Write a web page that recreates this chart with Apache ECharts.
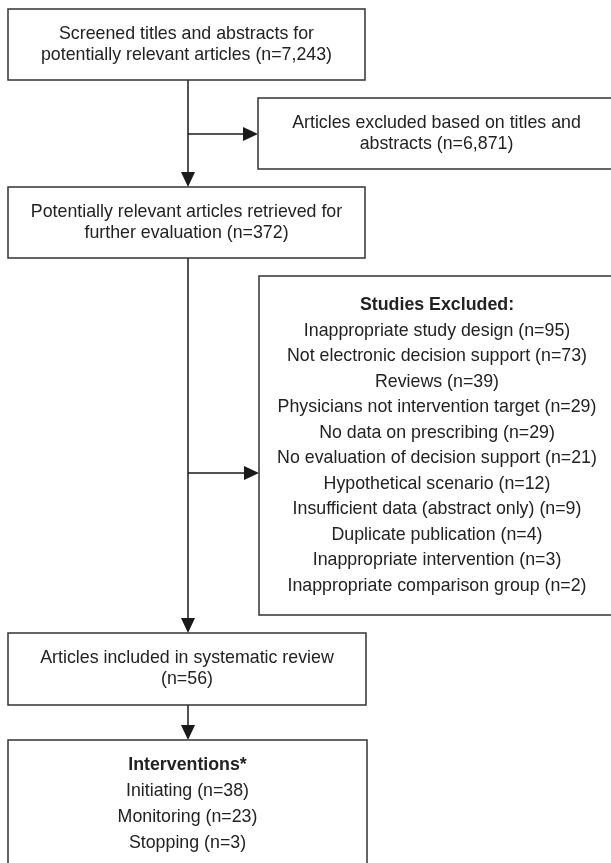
<!DOCTYPE html>
<html>
<head>
<meta charset="utf-8">
<script src="https://cdn.jsdelivr.net/npm/echarts@6/dist/echarts.min.js"></script>
<style>
  html, body { margin: 0; padding: 0; background: #fff; }
  #chart { width: 611px; height: 863px; }
</style>
</head>
<body>
<div id="chart"></div>
<script>
const screened = 7243;
const excludedOnTitles = 6871;
const retrieved = 372;
const included = 56;

const exclusionReasons = [
  "Inappropriate study design",
  "Not electronic decision support",
  "Reviews",
  "Physicians not intervention target",
  "No data on prescribing",
  "No evaluation of decision support",
  "Hypothetical scenario",
  "Insufficient data (abstract only)",
  "Duplicate publication",
  "Inappropriate intervention",
  "Inappropriate comparison group",
];
const exclusionCounts = [95, 73, 39, 29, 29, 21, 12, 9, 4, 3, 2];

const interventionTypes = ["Initiating", "Monitoring", "Stopping"];
const interventionCounts = [38, 23, 3];

const fmt = (n) => n.toLocaleString("en-US");

// text of each box, one entry per line
const boxTexts = [
  [
    { text: "Screened titles and abstracts for" },
    { text: `potentially relevant articles (n=${fmt(screened)})` },
  ],
  [
    { text: "Articles excluded based on titles and" },
    { text: `abstracts (n=${fmt(excludedOnTitles)})` },
  ],
  [
    { text: "Potentially relevant articles retrieved for" },
    { text: `further evaluation (n=${fmt(retrieved)})` },
  ],
  [{ text: "Studies Excluded:", bold: true }].concat(
    exclusionReasons.map((r, i) => ({ text: `${r} (n=${exclusionCounts[i]})` }))
  ),
  [
    { text: "Articles included in systematic review" },
    { text: `(n=${fmt(included)})` },
  ],
  [{ text: "Interventions*", bold: true }].concat(
    interventionTypes.map((t, i) => ({ text: `${t} (n=${interventionCounts[i]})` }))
  ),
];

// layout in units of the hidden axes (1 unit = 1px): x0, y0, x1, y1, line pitch
const boxLayout = [
  [8, 9, 365, 80, 21],
  [258, 98, 615, 169, 21],
  [8, 187, 365, 258, 21],
  [259, 276, 615, 615, 25.5],
  [8, 633, 366, 705, 21],
  [8, 740, 367, 869, 26],
];

// connectors: x0, y0, x1, y1 (arrow head at the end)
const connectors = [
  [188, 80, 188, 187],
  [188, 134, 258, 134],
  [188, 258, 188, 633],
  [188, 473, 259, 473],
  [188, 705, 188, 740],
];

const LINE = "#1a1a1a";
const FONT = "'Liberation Sans', Arial, sans-serif";

function renderBox(params, api) {
  const i = api.value(4);
  const [x0, y0, x1, y1, pitch] = boxLayout[i];
  const p0 = api.coord([x0, y0]);
  const p1 = api.coord([x1, y1]);
  const lines = boxTexts[i];
  const cx = (p0[0] + p1[0]) / 2;
  const cy = (p0[1] + p1[1]) / 2;
  const first = cy - ((lines.length - 1) * pitch) / 2;
  const children = [
    {
      type: "rect",
      shape: { x: p0[0], y: p0[1], width: p1[0] - p0[0], height: p1[1] - p0[1] },
      style: { fill: "#fff", stroke: "#333", lineWidth: 1.5 },
    },
  ];
  lines.forEach((ln, k) => {
    children.push({
      type: "text",
      style: {
        text: ln.text,
        x: cx,
        y: first + k * pitch,
        align: "center",
        verticalAlign: "middle",
        fontFamily: FONT,
        fontSize: 17.8,
        fontWeight: ln.bold ? "bold" : "normal",
        fill: "#222",
      },
    });
  });
  return { type: "group", children };
}

function renderConnector(params, api) {
  const a = api.coord([api.value(0), api.value(1)]);
  const b = api.coord([api.value(2), api.value(3)]);
  const dx = b[0] - a[0], dy = b[1] - a[1];
  const len = Math.hypot(dx, dy);
  const ux = dx / len, uy = dy / len;
  const head = 15, half = 7;
  const bx = b[0] - ux * head, by = b[1] - uy * head;
  return {
    type: "group",
    children: [
      {
        type: "line",
        shape: { x1: a[0], y1: a[1], x2: bx, y2: by },
        style: { stroke: LINE, lineWidth: 1.5 },
      },
      {
        type: "polygon",
        shape: {
          points: [
            [b[0], b[1]],
            [bx - uy * half, by + ux * half],
            [bx + uy * half, by - ux * half],
          ],
        },
        style: { fill: LINE },
      },
    ],
  };
}

const chart = echarts.init(document.getElementById("chart"));
chart.setOption({
  animation: false,
  grid: { left: 0, right: 0, top: 0, bottom: 0 },
  xAxis: { type: "value", min: 0, max: 611, show: false },
  yAxis: { type: "value", min: 0, max: 863, inverse: true, show: false },
  series: [
    {
      type: "custom",
      clip: false,
      renderItem: renderConnector,
      data: connectors,
    },
    {
      type: "custom",
      clip: false,
      renderItem: renderBox,
      data: boxLayout.map((b, i) => [b[0], b[1], b[2], b[3], i]),
    },
  ],
});
</script>
</body>
</html>
